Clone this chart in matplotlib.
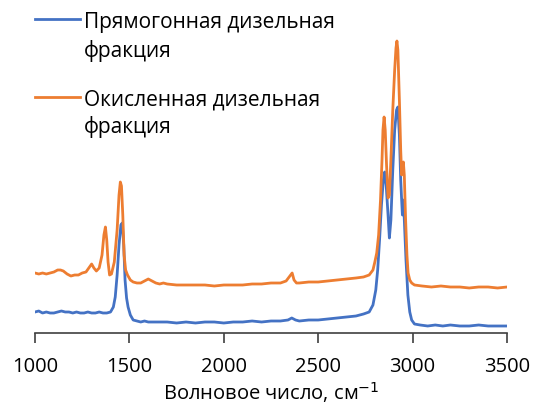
import matplotlib
matplotlib.use("Agg")
import matplotlib.pyplot as plt
from matplotlib.lines import Line2D

plt.rcParams['font.family'] = ['Open Sans', 'DejaVu Sans']

# IR spectra, intensity in arbitrary units
wn_straight = [1000, 1020, 1040, 1060, 1080, 1100, 1120, 1140, 1160, 1180, 1200, 1220,
               1240, 1260, 1280, 1300, 1320, 1340, 1360, 1380, 1400, 1415, 1425, 1435,
               1445, 1455, 1462, 1470, 1477, 1485, 1493, 1505, 1520, 1540, 1560, 1580,
               1600, 1650, 1700, 1750, 1800, 1850, 1900, 1950, 2000, 2050, 2100, 2150,
               2200, 2250, 2300, 2340, 2360, 2380, 2400, 2450, 2500, 2550, 2600, 2650,
               2700, 2740, 2770, 2790, 2805, 2815, 2825, 2835, 2845, 2852, 2860, 2870,
               2877, 2885, 2895, 2905, 2915, 2922, 2930, 2937, 2942, 2946, 2950, 2955,
               2965, 2975, 2985, 2995, 3010, 3040, 3080, 3120, 3160, 3200, 3250, 3300,
               3350, 3400, 3450, 3500]
int_straight = [0.21, 0.22, 0.20, 0.21, 0.20, 0.20, 0.21, 0.22, 0.21, 0.21, 0.20, 0.21,
                0.20, 0.20, 0.21, 0.20, 0.20, 0.21, 0.20, 0.20, 0.21, 0.26, 0.36, 0.58,
                0.88, 1.08, 1.10, 0.88, 0.53, 0.35, 0.26, 0.18, 0.13, 0.12, 0.11, 0.12,
                0.11, 0.11, 0.11, 0.10, 0.11, 0.10, 0.11, 0.11, 0.10, 0.11, 0.11, 0.12,
                0.11, 0.12, 0.12, 0.13, 0.15, 0.13, 0.12, 0.13, 0.13, 0.14, 0.15, 0.16,
                0.17, 0.19, 0.21, 0.28, 0.43, 0.63, 0.93, 1.28, 1.53, 1.61, 1.48, 1.18,
                0.95, 1.13, 1.63, 2.03, 2.23, 2.26, 1.98, 1.53, 1.33, 1.18, 1.33, 1.18,
                0.73, 0.38, 0.21, 0.13, 0.09, 0.08, 0.07, 0.08, 0.07, 0.08, 0.07, 0.07,
                0.08, 0.07, 0.07, 0.07]

wn_oxidized = [1000, 1020, 1040, 1060, 1080, 1100, 1120, 1135, 1150, 1170, 1190, 1210,
               1230, 1250, 1270, 1285, 1300, 1312, 1325, 1340, 1355, 1365, 1373, 1380,
               1387, 1395, 1405, 1420, 1435, 1445, 1452, 1458, 1465, 1472, 1480, 1490,
               1505, 1520, 1540, 1560, 1580, 1600, 1620, 1640, 1660, 1680, 1700, 1750,
               1800, 1850, 1900, 1950, 2000, 2050, 2100, 2150, 2200, 2250, 2300, 2330,
               2350, 2362, 2372, 2385, 2400, 2450, 2500, 2550, 2600, 2650, 2700, 2740,
               2770, 2790, 2800, 2810, 2820, 2830, 2838, 2843, 2849, 2855, 2862, 2870,
               2877, 2885, 2895, 2905, 2912, 2917, 2922, 2930, 2937, 2942, 2947, 2951,
               2956, 2963, 2970, 2976, 2985, 2995, 3010, 3050, 3100, 3150, 3200, 3250,
               3300, 3350, 3400, 3450, 3500]
int_oxidized = [0.60, 0.59, 0.60, 0.59, 0.60, 0.61, 0.63, 0.63, 0.62, 0.59, 0.57, 0.58,
                0.58, 0.60, 0.61, 0.65, 0.69, 0.65, 0.62, 0.65, 0.78, 0.98, 1.06, 0.93,
                0.71, 0.58, 0.59, 0.71, 1.03, 1.38, 1.51, 1.47, 1.18, 0.78, 0.63, 0.58,
                0.53, 0.51, 0.50, 0.50, 0.52, 0.54, 0.52, 0.50, 0.49, 0.50, 0.49, 0.48,
                0.48, 0.48, 0.48, 0.47, 0.48, 0.48, 0.48, 0.49, 0.49, 0.50, 0.50, 0.52,
                0.57, 0.60, 0.53, 0.50, 0.50, 0.51, 0.51, 0.52, 0.53, 0.54, 0.55, 0.56,
                0.58, 0.63, 0.71, 0.80, 0.98, 1.33, 1.73, 2.03, 2.16, 2.03, 1.68, 1.35,
                1.38, 1.73, 2.23, 2.63, 2.85, 2.92, 2.83, 2.33, 1.83, 1.58, 1.68, 1.71,
                1.58, 1.13, 0.78, 0.60, 0.53, 0.50, 0.48, 0.47, 0.46, 0.47, 0.46, 0.46,
                0.45, 0.46, 0.46, 0.45, 0.46]

labels = [["Прямогонная дизельная", "фракция"], ["Окисленная дизельная", "фракция"]]
colors = ["#4472C4", "#ED7D31"]
xticks = [1000, 1500, 2000, 2500, 3000, 3500]

W, H = 534, 405
fig = plt.figure(figsize=(W / 100, H / 100), dpi=100)
ax = fig.add_axes([35 / W, 1 - 333 / H, 472 / W, 333 / H])

ax.plot(wn_straight, int_straight, color=colors[0], lw=2.0)
ax.plot(wn_oxidized, int_oxidized, color=colors[1], lw=2.0)

ax.set_xlim(1000, 3500)
ax.set_ylim(0, 3.33)
ax.set_xticks(xticks)
ax.set_xticklabels([str(t) for t in xticks], fontsize=14.5)
ax.set_yticks([])
for side in ("left", "right", "top"):
    ax.spines[side].set_visible(False)
ax.spines["bottom"].set_color("#404040")
ax.spines["bottom"].set_linewidth(1.2)
ax.tick_params(axis="x", direction="out", length=7, width=1.2, color="#404040", pad=10)

# Axis title placed on its baseline near the bottom edge
fig.text((35 + 507) / 2 / W, 1 - 400 / H, "Волновое число, см$^{-1}$",
         fontsize=14.5, ha="center", va="baseline")

# Legend: handle line plus two-line label for each series
handle_y = [19, 97]
text_baselines = [(28, 57), (105, 133)]
for color, hy, rows, lab in zip(colors, handle_y, text_baselines, labels):
    fig.add_artist(Line2D([35 / W, 80 / W], [1 - hy / H, 1 - hy / H],
                          transform=fig.transFigure, color=color, lw=2.0))
    for ry, line in zip(rows, lab):
        fig.text(84 / W, 1 - ry / H, line, fontsize=15, ha="left", va="baseline")

fig.savefig("out.png", dpi=100)
